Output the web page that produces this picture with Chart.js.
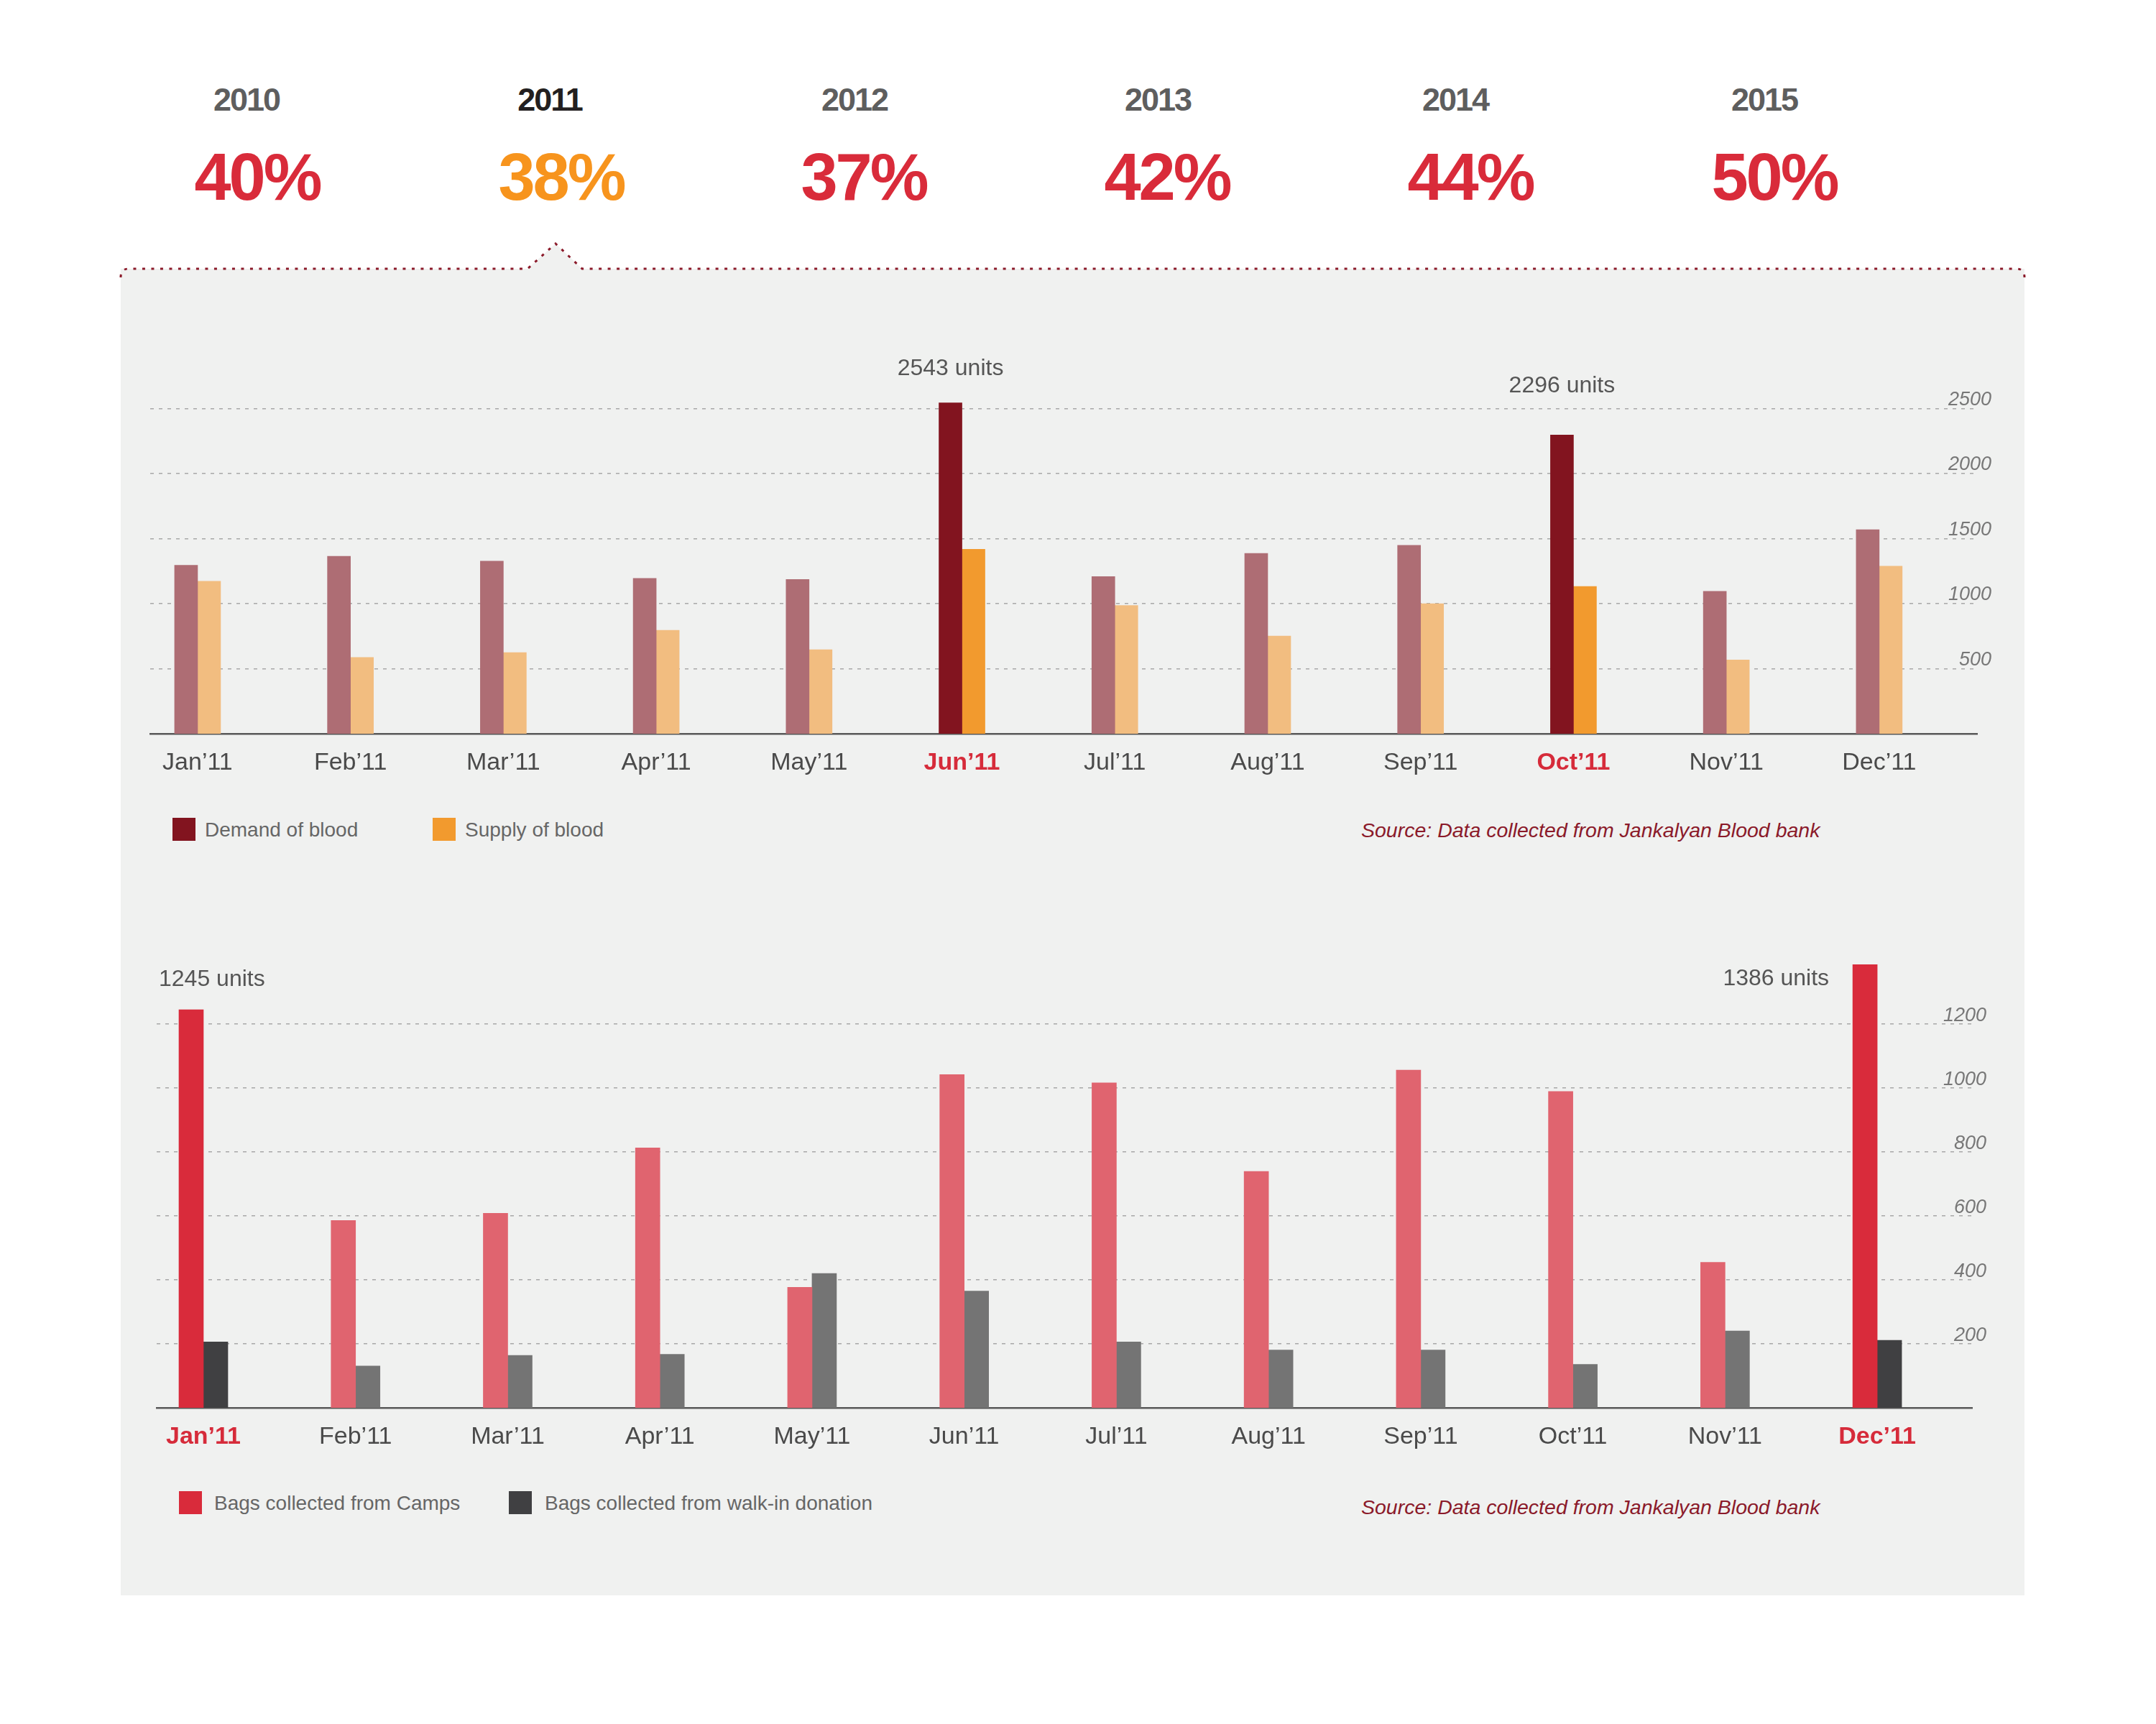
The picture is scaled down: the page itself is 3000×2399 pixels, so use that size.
<!DOCTYPE html>
<html>
<head>
<meta charset="utf-8">
<title>Blood demand, supply and collection 2011</title>
<script src="https://cdn.jsdelivr.net/npm/chart.js@4.4.0/dist/chart.umd.min.js"></script>
<style>
  body { margin:0; background:#fff; width:3000px; height:2399px; position:relative; overflow:hidden;
         font-family:"Liberation Sans", Arial, sans-serif; }
  .abs { position:absolute; }
  .year { width:300px; text-align:center; font-size:45px; line-height:45px; font-weight:bold; color:#5e5e5e; letter-spacing:-2px; }
  .year.on { color:#231f20; }
  .pct { width:400px; text-align:center; font-size:92px; line-height:92px; font-weight:bold; color:#d92b3a; letter-spacing:-3px; }
  .pct.on { color:#f7941d; }
  .sw { width:32px; height:32px; }
  .lg { font-size:28px; line-height:28px; color:#666; white-space:nowrap; }
  .src { font-size:28.5px; line-height:28px; color:#8b1a2a; font-style:italic; white-space:nowrap; }
</style>
</head>
<body>
<svg class="abs" style="left:0;top:0" width="3000" height="2399">
  <path d="M168,2220 L168,374 L734,374 L773,339 L810,374 L2817,374 L2817,2220 Z" fill="#f0f1f0"/>
  <path d="M168,386 Q168,374 179,374 L734,374 L773,339 L810,374 L2806,374 Q2817,374 2817,386"
        fill="none" stroke="#8b1a2a" stroke-width="3" stroke-dasharray="4 8.5"/>
</svg>

<div id="header"></div>

<canvas id="topChart" class="abs" width="2649" height="710" style="left:168px;top:400px"></canvas>
<canvas id="bottomChart" class="abs" width="2649" height="848" style="left:168px;top:1200px"></canvas>

<div class="abs sw" style="left:240px;top:1138px;background:#82141f"></div>
<div class="abs lg" style="left:285px;top:1141px">Demand of blood</div>
<div class="abs sw" style="left:602px;top:1138px;background:#f29a2e"></div>
<div class="abs lg" style="left:647px;top:1141px">Supply of blood</div>
<div class="abs src" style="left:1894px;top:1141px">Source: Data collected from Jankalyan Blood bank</div>

<div class="abs sw" style="left:249px;top:2075px;background:#d92b3b"></div>
<div class="abs lg" style="left:298px;top:2078px">Bags collected from Camps</div>
<div class="abs sw" style="left:708px;top:2075px;background:#404042"></div>
<div class="abs lg" style="left:758px;top:2078px">Bags collected from walk-in donation</div>
<div class="abs src" style="left:1894px;top:2083px">Source: Data collected from Jankalyan Blood bank</div>

<script>
// header: share per year
const years = ["2010", "2011", "2012", "2013", "2014", "2015"];
const shares = [40, 38, 37, 42, 44, 50];
const currentYear = "2011";

// chart 1: demand / supply of blood, 2011
const months = ["Jan’11", "Feb’11", "Mar’11", "Apr’11", "May’11", "Jun’11",
                "Jul’11", "Aug’11", "Sep’11", "Oct’11", "Nov’11", "Dec’11"];
const demand = [1294, 1364, 1327, 1194, 1185, 2543, 1207, 1386, 1448, 2296, 1095, 1568];
const supply = [1172, 587, 624, 795, 646, 1417, 986, 751, 999, 1132, 567, 1288];
const demandTicks = [500, 1000, 1500, 2000, 2500];
const demandHighlight = [5, 9];

// chart 2: bags collected, 2011
const camps = [1245, 586, 608, 813, 377, 1042, 1016, 739, 1056, 989, 455, 1386];
const walkin = [206, 131, 164, 167, 420, 365, 206, 181, 181, 136, 240, 211];
const bagTicks = [200, 400, 600, 800, 1000, 1200];
const bagHighlight = [0, 11];

const FONT = '"Liberation Sans", Arial, sans-serif';

// header
const yearX = [343, 765, 1189, 1611, 2025, 2455];
const pctX = [358, 781, 1202, 1624, 2046, 2469];
const header = document.getElementById("header");
years.forEach((y, i) => {
  const on = y === currentYear ? " on" : "";
  header.insertAdjacentHTML("beforeend",
    `<div class="abs year${on}" style="left:${yearX[i] - 150}px;top:116px">${y}</div>` +
    `<div class="abs pct${on}" style="left:${pctX[i] - 200}px;top:200px">${shares[i]}%</div>`);
});

function barColors(list, hi, base) {
  return months.map((_, i) => list.includes(i) ? hi : base);
}
function points(arr) {
  return arr.map((v, i) => ({ x: i, y: v }));
}

// "xxxx units" labels next to the highlighted bars
const notesPlugin = {
  id: "notes",
  afterDatasetsDraw(chart, args, opts) {
    const meta = chart.getDatasetMeta(0);
    const values = chart.data.datasets[0].data;
    const ctx = chart.ctx;
    ctx.save();
    ctx.font = "32px " + FONT;
    ctx.fillStyle = "#555";
    ctx.textBaseline = "alphabetic";
    opts.items.forEach(n => {
      const bar = meta.data[n.index];
      const left = bar.x - bar.width / 2;
      ctx.textAlign = n.align;
      const x = n.align === "center" ? bar.x : left + n.dx;
      ctx.fillText(values[n.index].y + " units", x, bar.y + n.dy);
    });
    ctx.restore();
  }
};

function makeChart(id, cfg) {
  return new Chart(document.getElementById(id), {
    type: "bar",
    data: {
      datasets: [
        { label: cfg.labels[0], data: points(cfg.a), backgroundColor: barColors(cfg.hi, cfg.colors[0], cfg.colors[1]),
          barThickness: cfg.thick, borderWidth: 0 },
        { label: cfg.labels[1], data: points(cfg.b), backgroundColor: barColors(cfg.hi, cfg.colors[2], cfg.colors[3]),
          barThickness: cfg.thick, borderWidth: 0 }
      ]
    },
    options: {
      responsive: false,
      animation: false,
      layout: { padding: cfg.padding },
      plugins: { legend: { display: false }, tooltip: { enabled: false }, notes: { items: cfg.notes } },
      scales: {
        x: {
          type: "linear", min: cfg.xmin, max: cfg.xmax, offset: false,
          afterBuildTicks: s => { s.ticks = months.map((_, i) => ({ value: i })); },
          afterFit: s => { s.height = 80; },
          grid: { display: false, drawTicks: false, offset: false },
          border: { display: true, color: "#595959", width: 2.5 },
          ticks: {
            autoSkip: false, maxRotation: 0, padding: 20,
            callback: v => months[v],
            color: c => cfg.hi.includes(c.index) ? "#d62b3a" : "#4a4a4a",
            font: c => ({ family: FONT, size: 34, weight: cfg.hi.includes(c.index) ? "bold" : "normal" })
          }
        },
        y: {
          position: "right", min: 0, max: cfg.ymax,
          afterBuildTicks: s => { s.ticks = cfg.ticks.map(v => ({ value: v })); },
          afterFit: s => { s.width = 0; },
          grid: { color: "#a8a8a8", lineWidth: 1.5, drawTicks: false },
          border: { display: false, dash: [5, 7] },
          ticks: { mirror: true, padding: 20, labelOffset: -12, color: "#777",
                   callback: v => String(v),
                   font: { family: FONT, size: 27, style: "italic" } }
        }
      }
    },
    plugins: [notesPlugin]
  });
}

makeChart("topChart", {
  labels: ["Demand of blood", "Supply of blood"],
  a: demand, b: supply, hi: demandHighlight, ticks: demandTicks,
  colors: ["#82141f", "#ae6d74", "#f29a2e", "#f2bd80"],
  thick: 32, ymax: 2800, xmin: -0.31, xmax: 11.64,
  padding: { left: 41, right: 66, top: 114, bottom: 9 },
  notes: [ { index: 5, align: "center", dy: -39 }, { index: 9, align: "center", dy: -59 } ]
});

makeChart("bottomChart", {
  labels: ["Bags collected from Camps", "Bags collected from walk-in donation"],
  a: camps, b: walkin, hi: bagHighlight, ticks: bagTicks,
  colors: ["#d92b3b", "#e0646f", "#404042", "#747474"],
  thick: 34, ymax: 1500, xmin: -0.307, xmax: 11.623,
  padding: { left: 50, right: 73, top: 91.5, bottom: 9 },
  notes: [ { index: 0, align: "left", dx: -28, dy: -33 }, { index: 11, align: "right", dx: -33, dy: 29 } ]
});
</script>
</body>
</html>
